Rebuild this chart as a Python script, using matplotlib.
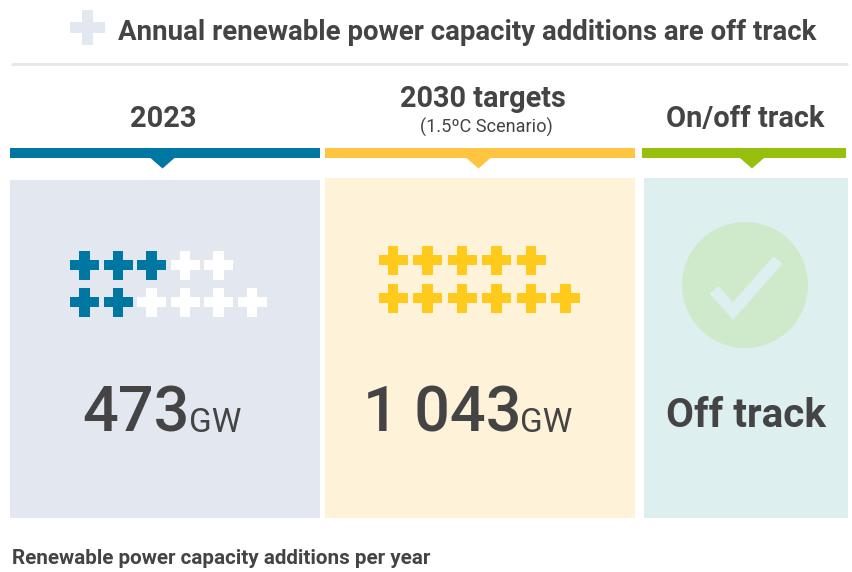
import matplotlib
matplotlib.use("Agg")
import matplotlib.pyplot as plt
from matplotlib.patches import Rectangle, Polygon, Circle

plt.rcParams['font.family'] = ['Roboto', 'DejaVu Sans']

title = "Annual renewable power capacity additions are off track"
headers = ["2023", "2030 targets", "On/off track"]
subheader = "(1.5ºC Scenario)"
values = ["473", "1 043"]
unit = "GW"
status = "Off track"
footer = "Renewable power capacity additions per year"
row_counts_2023 = [5, 6]
filled_2023 = [3, 2]
row_counts_2030 = [5, 6]
filled_2030 = [5, 6]

DARK = "#444444"
BLUE, YEL, GRN = "#0076A3", "#FFC540", "#97BF0D"

fig = plt.figure(figsize=(8.52, 5.72), dpi=100)
ax = fig.add_axes([0, 0, 1, 1])
ax.set_xlim(0, 852); ax.set_ylim(572, 0); ax.axis("off")

def cross(cx, cy, color, s=14.5, t=5.2, z=3):
    pts = [(cx-t,cy-s),(cx+t,cy-s),(cx+t,cy-t),(cx+s,cy-t),(cx+s,cy+t),(cx+t,cy+t),
           (cx+t,cy+s),(cx-t,cy+s),(cx-t,cy+t),(cx-s,cy+t),(cx-s,cy-t),(cx-t,cy-t)]
    ax.add_patch(Polygon(pts, closed=True, fc=color, ec="none", zorder=z))

def rows(x0, dx, ys, counts, filled, on, off):
    for y, n, f in zip(ys, counts, filled):
        for i in range(n):
            cross(x0 + i*dx, y, on if i < f else off)

# title
cross(87.5, 27, "#E2E7F0", s=17.5, t=5.5)
ax.text(118, 32, title, fontsize=19.9, fontweight="bold", color=DARK, ha="left", va="center")
ax.plot([11, 848], [64, 64], color="#E6E6E6", lw=2, solid_capstyle="butt")

# panels
for x0, x1, y0, c in [(10, 320, 180, "#E2E7F0"), (325, 635, 178, "#FEF2D8"), (644, 848, 178, "#DEEFF0")]:
    ax.add_patch(Rectangle((x0, y0), x1-x0, 518-y0, fc=c, ec="none", zorder=1))

# header bars with pointers
for x0, x1, xm, c in [(10, 319.5, 162.5, BLUE), (325, 634.5, 478.5, YEL), (642, 846, 752, GRN)]:
    ax.add_patch(Rectangle((x0, 148), x1-x0, 10, fc=c, ec="none"))
    ax.add_patch(Polygon([(xm-12, 158), (xm+12, 158), (xm, 168.5)], closed=True, fc=c, ec="none"))

ax.text(163.5, 119, headers[0], fontsize=20.9, fontweight="bold", color=DARK, ha="center", va="center")
ax.text(483, 99, headers[1], fontsize=20.8, fontweight="bold", color=DARK, ha="center", va="center")
ax.text(486.5, 127.5, subheader, fontsize=13.1, color=DARK, ha="center", va="center")
ax.text(745.5, 119, headers[2], fontsize=20.9, fontweight="bold", color=DARK, ha="center", va="center")

# crosses
rows(84.5, 33.5, [265, 302], row_counts_2023, filled_2023, BLUE, "#FFFFFF")
rows(393, 34.5, [260, 298], row_counts_2030, filled_2030, "#FFCA1C", "#FFFFFF")

# values
ax.text(82, 432, values[0], fontsize=45.3, fontweight="medium", color=DARK, ha="left", va="baseline")
ax.text(189, 432, unit, fontsize=24, color=DARK, ha="left", va="baseline")
ax.text(363, 432, values[1], fontsize=45.3, fontweight="medium", color=DARK, ha="left", va="baseline")
ax.text(519.5, 432, unit, fontsize=24, color=DARK, ha="left", va="baseline")

# status
ax.add_patch(Circle((745, 285), 63, fc="#CFE9CB", ec="none", zorder=2))
ax.plot([714, 733, 778], [290, 311, 260], color="#DEEFF0", lw=8.5, solid_joinstyle="miter",
        solid_capstyle="butt", zorder=3)
ax.text(745.5, 416, status, fontsize=29.1, fontweight="bold", color=DARK, ha="center", va="center")

ax.text(12, 558, footer, fontsize=14.85, fontweight="bold", color=DARK, ha="left", va="center")

fig.savefig("out.png", dpi=100)
